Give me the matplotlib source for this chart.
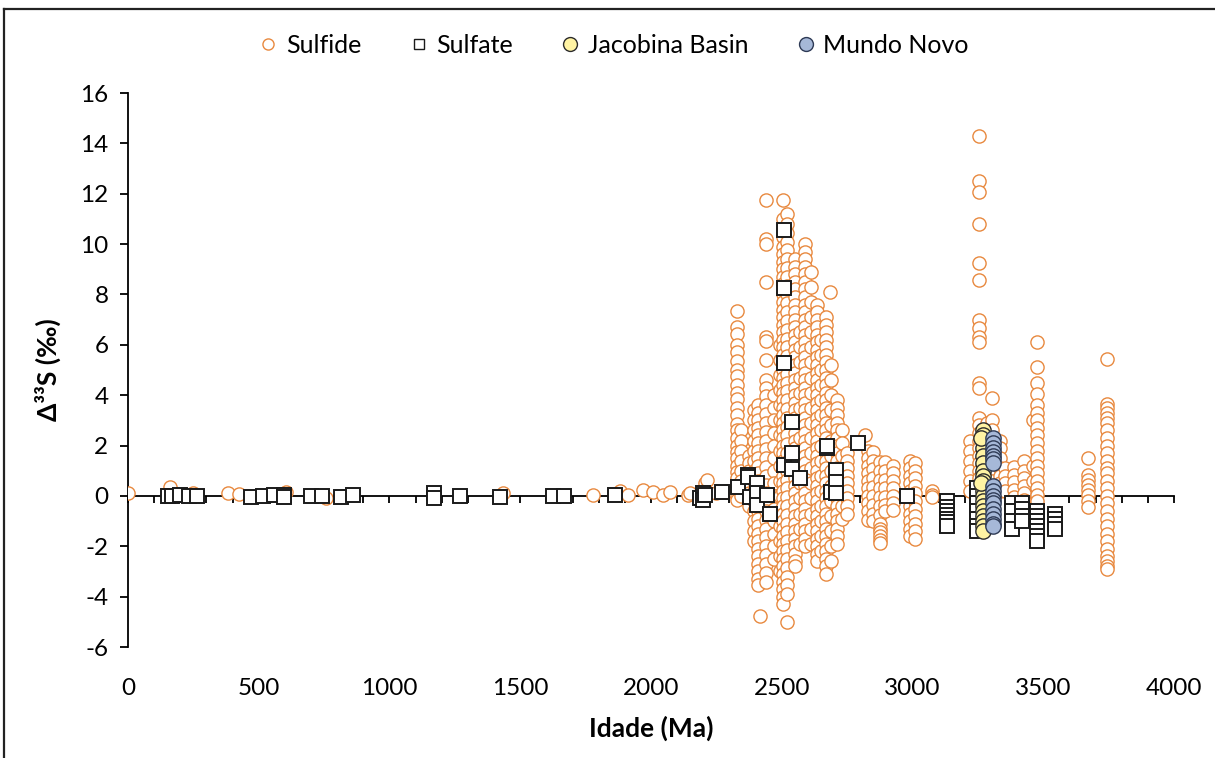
import matplotlib
matplotlib.use('Agg')
import matplotlib.pyplot as plt
from matplotlib.lines import Line2D

plt.rcParams['font.family'] = ['Lato', 'DejaVu Sans']
plt.rcParams['axes.unicode_minus'] = False

# Sulfide - scattered points (Ma, per mil)
sulfide_age = [0, 162, 250, 382, 426, 603, 757, 1434, 1778, 1882, 1912, 1970, 2008,
               2046, 2073, 2142, 2149, 2206, 2213, 2250, 2290, 2415, 2520, 2685, 2818,
               3075, 3075, 3075, 3230]
sulfide_val = [0.1, 0.37, 0.1, 0.1, 0.08, 0.15, -0.1, 0.1, 0.05, 0.2, 0.05, 0.25, 0.15,
               0.05, 0.15, 0.05, 0.1, 0.5, 0.65, 0.1, 0.2, -4.75, -5.0, 8.1, 2.4,
               0.2, 0.05, -0.05, 0.35]

# Sulfide - dense columns (age of column, values in column)
sulfide_col_age = [2330, 2345, 2375, 2395, 2410, 2440, 2470, 2492, 2505, 2520, 2550,
                   2570, 2590, 2612, 2633, 2650, 2670, 2690, 2711, 2730,
                   2750, 2830, 2850, 2875, 2895, 2925, 2990, 3010,
                   3220, 3256, 3285, 3304, 3335, 3354, 3389, 3427, 3460, 3477, 3672, 3744]
sulfide_col_val = [
    [7.35, 6.7, 6.45, 6.0, 5.7, 5.35, 5.0, 4.75, 4.4, 4.1, 3.85, 3.5, 3.2, 2.85, 2.6,
     2.3, 2.0, 1.75, 1.5, 1.2, 0.95, 0.7, 0.45, 0.2, 0.0, -0.15],
    [2.6, 2.2, 1.8, 1.4, 1.0, 0.6, 0.3, 0.0],
    [1.6, 1.3, 1.0, 0.7, 0.4, 0.1, -0.2, -0.4],
    [3.4, 3.0, 2.6, 2.2, 1.8, 1.4, 1.0, 0.6, 0.2, -0.2, -0.6, -1.0, -1.4, -1.8],
    [3.6, 3.3, 3.0, 2.7, 2.4, 2.1, 1.8, 1.5, 1.2, 0.9, 0.6, 0.3, 0.0, -0.3, -0.6, -0.9,
     -1.2, -1.5, -1.8, -2.1, -2.4, -2.7, -3.0, -3.3, -3.55],
    [11.75, 10.2, 10.0, 8.5, 6.3, 6.15, 5.4, 4.6, 4.3, 3.95, 3.6, 3.25, 2.9, 2.55, 2.2,
     1.85, 1.5, 1.15, 0.8, 0.45, 0.1, -0.25, -0.6, -0.95, -1.3, -1.65, -2.0, -2.35,
     -2.7, -3.05, -3.4],
    [4.0, 3.5, 3.0, 2.5, 2.0, 1.5, 1.0, 0.5, 0.0, -0.5, -1.0, -1.5, -2.0, -2.5],
    [6.0, 5.4, 4.8, 4.2, 3.6, 3.0, 2.4, 1.8, 1.2, 0.6, 0.0, -0.6, -1.2, -1.8, -2.4, -3.0],
    [11.75, 11.0, 10.3, 9.9, 9.6, 9.3, 9.0, 8.7, 8.4, 8.0, 7.7, 7.4, 7.1, 6.8, 6.5,
     6.2, 5.9, 5.6, 5.3, 5.0, 4.7, 4.4, 4.1, 3.8, 3.5, 3.2, 2.9, 2.6, 2.3, 2.0, 1.7,
     1.4, 1.1, 0.8, 0.5, 0.2, -0.1, -0.4, -0.7, -1.0, -1.3, -1.6, -1.9, -2.2, -2.5,
     -2.8, -3.1, -3.4, -3.7, -4.0, -4.3],
    [11.2, 10.8, 10.45, 10.1, 9.75, 9.4, 9.05, 8.7, 8.35, 8.0, 7.65, 7.3, 6.95, 6.6,
     6.25, 5.9, 5.55, 5.2, 4.85, 4.5, 4.15, 3.8, 3.45, 3.1, 2.75, 2.4, 2.05, 1.7, 1.35,
     1.0, 0.65, 0.3, -0.05, -0.4, -0.75, -1.1, -1.45, -1.8, -2.15, -2.5, -2.85, -3.2,
     -3.55, -3.9],
    [9.4, 9.1, 8.8, 8.5, 8.2, 7.9, 7.6, 7.3, 7.0, 6.7, 6.4, 6.1, 5.8, 5.5, 5.2, 4.9,
     4.6, 4.3, 4.0, 3.7, 3.4, 3.1, 2.8, 2.5, 2.2, 1.9, 1.6, 1.3, 1.0, 0.7, 0.4, 0.1,
     -0.2, -0.5, -0.8, -1.1, -1.4, -1.7, -2.0, -2.3, -2.6, -2.8],
    [6.5, 5.9, 5.3, 4.7, 4.1, 3.5, 2.9, 2.3, 1.7, 1.1, 0.5, -0.1, -0.7, -1.3, -1.9],
    [10.0, 9.7, 9.4, 9.1, 8.8, 8.5, 8.2, 7.9, 7.6, 7.3, 7.0, 6.7, 6.4, 6.1, 5.8, 5.5,
     5.2, 4.9, 4.6, 4.3, 4.0, 3.7, 3.4, 3.1, 2.8, 2.5, 2.2, 1.9, 1.6, 1.3, 1.0, 0.7,
     0.4, 0.1, -0.2, -0.5, -0.8, -1.1, -1.4, -1.7, -2.0],
    [8.9, 8.3, 7.7, 7.1, 6.5, 5.9, 5.3, 4.7, 4.1, 3.5, 2.9, 2.3, 1.7, 1.1, 0.5, -0.1,
     -0.7, -1.3, -1.9],
    [7.6, 7.3, 7.0, 6.7, 6.4, 6.1, 5.8, 5.5, 5.2, 4.9, 4.6, 4.3, 4.0, 3.7, 3.4, 3.1,
     2.8, 2.5, 2.2, 1.9, 1.6, 1.3, 1.0, 0.7, 0.4, 0.1, -0.2, -0.5, -0.8, -1.1, -1.4,
     -1.7, -2.0, -2.3, -2.6],
    [6.2, 5.6, 5.0, 4.4, 3.8, 3.2, 2.6, 2.0, 1.4, 0.8, 0.2, -0.4, -1.0, -1.6, -2.2],
    [7.1, 6.8, 6.5, 6.2, 5.9, 5.6, 5.3, 5.0, 4.7, 4.4, 4.1, 3.8, 3.5, 3.2, 2.9, 2.6,
     2.3, 2.0, 1.7, 1.4, 1.1, 0.8, 0.5, 0.2, -0.1, -0.4, -0.7, -1.0, -1.3, -1.6, -1.9,
     -2.2, -2.5, -2.8, -3.1],
    [5.2, 4.6, 4.0, 3.4, 2.8, 2.2, 1.6, 1.0, 0.4, -0.2, -0.8, -1.4, -2.0, -2.6],
    [3.8, 3.5, 3.2, 2.9, 2.6, 2.3, 2.0, 1.7, 1.4, 1.1, 0.8, 0.5, 0.2, -0.1, -0.4, -0.7,
     -1.0, -1.3, -1.6, -1.9],
    [2.6, 2.1, 1.6, 1.1, 0.6, 0.1, -0.4, -0.9],
    [1.7, 1.4, 1.1, 0.8, 0.5, 0.2, -0.1, -0.4, -0.7],
    [1.8, 1.5, 1.2, 0.9, 0.6, 0.3, 0.0, -0.3, -0.6, -0.95],
    [1.75, 1.4, 1.05, 0.7, 0.35, 0.0, -0.35, -0.7, -1.0],
    [1.35, 1.0, 0.65, 0.3, -0.05, -0.4, -0.75, -1.1, -1.3, -1.45, -1.6, -1.75, -1.85],
    [1.35, 1.0, 0.65, 0.3, -0.05, -0.35, -0.6],
    [1.2, 0.9, 0.6, 0.3, 0.0, -0.3, -0.55],
    [1.4, 1.1, 0.8, 0.5, 0.2, -0.1, -0.4, -0.7, -1.0, -1.3, -1.6],
    [1.3, 1.0, 0.7, 0.4, 0.1, -0.2, -0.5, -0.8, -1.1, -1.4, -1.7],
    [2.2, 1.8, 1.4, 1.0, 0.6, 0.2],
    [14.3, 12.5, 12.05, 10.8, 9.25, 8.57, 6.98, 6.66, 6.3, 6.1, 4.5, 4.3, 3.1, 2.8,
     2.5, 2.2, 1.9, 1.6, 1.3, 1.0, 0.7, 0.4, 0.2],
    [2.9, 2.5, 2.1, 1.7, 1.3, 0.9, 0.5, 0.1],
    [3.9, 3.0, 2.6, 2.2, 1.8, 1.4, 1.0, 0.6, 0.2],
    [2.2, 1.9, 1.5, 1.1, 0.8, 0.5, 0.2],
    [1.1, 0.8, 0.5, 0.2],
    [1.15, 0.85, 0.55, 0.25, -0.05, -0.4, -0.7],
    [1.4, 1.0, 0.7, 0.4, 0.1, -0.15],
    [3.0, 1.2, 0.6],
    [6.1, 5.1, 4.5, 4.05, 3.6, 3.3, 3.0, 2.7, 2.4, 2.1, 1.8, 1.5, 1.2, 0.9, 0.6, 0.3,
     0.05, -0.2],
    [1.5, 0.85, 0.65, 0.45, 0.25, 0.05, -0.2, -0.45],
    [5.44, 3.65, 3.5, 3.3, 3.1, 2.9, 2.6, 2.3, 2.0, 1.7, 1.4, 1.1, 0.9, 0.6, 0.3, 0.0,
     -0.3, -0.6, -0.9, -1.2, -1.5, -1.8, -2.1, -2.4, -2.6, -2.8, -2.9],
]

# Sulfate
sulfate_age = [154, 169, 199, 235, 265, 471, 515, 559, 596, 596, 699, 743, 816, 860,
               1169, 1169, 1270, 1423, 1626, 1667, 1862,
               2187, 2199, 2199, 2206, 2271, 2332, 2370, 2370, 2380, 2404, 2404, 2404,
               2443, 2454, 2508, 2508, 2508, 2508, 2538, 2538, 2538, 2569, 2672, 2672,
               2690, 2706, 2706, 2706, 2790, 2977,
               3130, 3130, 3130, 3130, 3130, 3130, 3130,
               3245, 3245, 3245, 3245, 3245, 3245, 3245,
               3380, 3380, 3380, 3380, 3418, 3418, 3418, 3418,
               3477, 3477, 3477, 3477, 3477, 3477, 3477,
               3546, 3546, 3546, 3546]
sulfate_val = [0.0, 0.0, 0.05, 0.0, 0.0, -0.05, 0.0, 0.05, 0.05, -0.05, 0.0, 0.0, -0.05,
               0.05, 0.1, -0.1, 0.0, -0.05, 0.0, 0.0, 0.05,
               -0.1, 0.1, -0.15, 0.05, 0.15, 0.37, 0.85, 0.75, -0.05, 0.5, 0.1, -0.35,
               0.05, -0.7, 10.55, 8.25, 5.27, 1.23, 2.95, 1.7, 1.07, 0.7, 1.9, 2.0,
               0.15, 1.03, 0.57, 0.12, 2.1, 0.0,
               -0.2, -0.45, -0.6, -0.75, -0.9, -1.05, -1.2,
               0.3, 0.0, -0.3, -0.6, -0.9, -1.2, -1.4,
               -0.3, -0.6, -1.0, -1.3, -0.3, -0.5, -0.8, -1.0,
               -0.6, -0.8, -1.0, -1.2, -1.4, -1.6, -1.8,
               -0.7, -0.9, -1.1, -1.3]

# Jacobina Basin
jacobina_age = [3270] * 19 + [3262, 3262]
jacobina_val = [2.6, 2.4, 2.2, 1.9, 1.6, 1.3, 1.0, 0.8, 0.6, 0.4, 0.2, 0.0, -0.2, -0.4,
                -0.6, -0.8, -1.0, -1.2, -1.4, 2.3, 0.5]

# Mundo Novo
mundo_age = [3306] * 17
mundo_val = [2.3, 2.1, 1.9, 1.75, 1.6, 1.45, 1.3, 0.4, 0.2, 0.0, -0.15, -0.3, -0.5,
             -0.7, -0.9, -1.1, -1.2]

orange = '#E8893F'

sx = list(sulfide_age)
sy = list(sulfide_val)
for age, vals in zip(sulfide_col_age, sulfide_col_val):
    sx += [age] * len(vals)
    sy += vals

fig = plt.figure(figsize=(12.15, 7.58), dpi=100)
ax = fig.add_axes([0.1053, 0.1464, 0.861, 0.7309])

ax.plot(sx, sy, 'o', ms=9.5, mfc='white', mec=orange, mew=1.0, zorder=3, label='Sulfide')
ax.plot(sulfate_age, sulfate_val, 's', ms=10, mfc='white', mec='#1a1a1a', mew=1.4,
        zorder=4, label='Sulfate')
ax.plot(jacobina_age, jacobina_val, 'o', ms=11, mfc='#FFF3A3', mec='#2b2b2b', mew=1.0,
        zorder=5, label='Jacobina Basin')
ax.plot(mundo_age, mundo_val, 'o', ms=11, mfc='#A6B8D8', mec='#2E3A55', mew=1.0,
        zorder=6, label='Mundo Novo')

ax.set_xlim(0, 4000)
ax.set_ylim(-6, 16)
ax.set_yticks(range(-6, 17, 2))
ax.set_xticks(range(0, 4001, 500))
ax.set_xticks(range(0, 4001, 100), minor=True)

for s in ['top', 'right']:
    ax.spines[s].set_visible(False)
ax.spines['bottom'].set_position(('data', 0))
ax.spines['bottom'].set_zorder(2)
ax.spines['left'].set_linewidth(1.3)
ax.spines['bottom'].set_linewidth(1.3)

ax.tick_params(axis='y', direction='out', length=6, width=1.3, labelsize=17.5, pad=8)
ax.tick_params(axis='x', which='both', direction='out', length=5, width=1.3,
               labelbottom=False)

sec = ax.secondary_xaxis(0)
sec.set_xticks(range(0, 4001, 500))
sec.spines['bottom'].set_visible(False)
sec.tick_params(axis='x', length=0, labelsize=17.5, pad=22)
sec.set_xlabel('Idade (Ma)', fontsize=19, fontweight='bold', labelpad=12)

ax.set_ylabel('Δ³³S (‰)', fontsize=19, fontweight='bold', labelpad=14)

handles = [
    Line2D([], [], ls='none', marker='o', ms=8, mfc='white', mec=orange, mew=1.0),
    Line2D([], [], ls='none', marker='s', ms=7, mfc='white', mec='#1a1a1a', mew=1.0),
    Line2D([], [], ls='none', marker='o', ms=10, mfc='#FFF3A3', mec='#2b2b2b', mew=1.0),
    Line2D([], [], ls='none', marker='o', ms=10, mfc='#A6B8D8', mec='#2E3A55', mew=1.0),
]
fig.legend(handles, ['Sulfide', 'Sulfate', 'Jacobina Basin', 'Mundo Novo'],
           loc='center', bbox_to_anchor=(0.505, 0.94), ncol=4, frameon=False,
           fontsize=18, handlelength=0.8, handletextpad=0.3, columnspacing=1.9)

# outer frame
fig.add_artist(Line2D([0.0033, 0.0033], [0, 0.988], color='#222222', lw=1.6,
                      transform=fig.transFigure))
fig.add_artist(Line2D([0.0033, 1.0], [0.988, 0.988], color='#222222', lw=1.6,
                      transform=fig.transFigure))

fig.savefig('out.png', dpi=100)
